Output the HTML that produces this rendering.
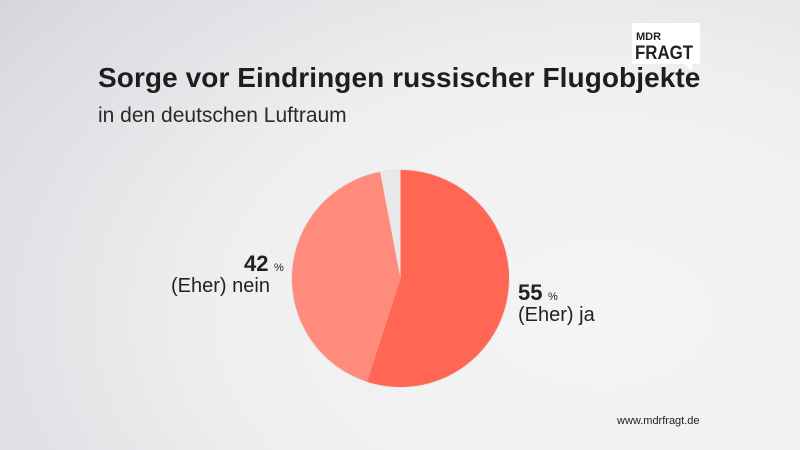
<!DOCTYPE html>
<html><head><meta charset="utf-8"><style>
body{margin:0;width:800px;height:450px;overflow:hidden;font-family:"Liberation Sans",sans-serif;
background:radial-gradient(ellipse 900px 600px at 75% 70%,#f4f4f4 0%,#f0f0f1 40%,#dcdde1 75%,#c9cad0 100%);position:relative;color:#222}
.t{position:absolute;left:98px;top:62px;font-size:28px;font-weight:bold;color:#1e1e1e;letter-spacing:0.08px;white-space:nowrap}
.s{position:absolute;left:98px;top:104px;font-size:21px;color:#2a2a2a}
.lab{position:absolute;font-size:20px;color:#222;line-height:23px}
.lab b{font-size:22px}
.lab small{font-size:11px}
.url{position:absolute;left:617px;top:415px;font-size:11px;color:#222}
</style></head><body>
<svg width="800" height="450" style="position:absolute;left:0;top:0">
<polygon points="632,23 700,23 700,64 692,64 692,71 684,64 632,64" fill="#fff"/>
<text x="636" y="40" font-size="11" font-weight="bold" fill="#222" font-family="Liberation Sans">MDR</text>
<text x="635" y="59" font-size="19" font-weight="bold" fill="#222" font-family="Liberation Sans" textLength="58" lengthAdjust="spacingAndGlyphs">FRAGT</text>
<circle cx="400.5" cy="278.5" r="109.5" fill="#e6e6e6"/>
<path d="M400.5,278.5 L400.5,170 A108.5,108.5 0 1 1 367,381.7 Z" fill="#ff6653"/>
<path d="M400.5,278.5 L367,381.7 A108.5,108.5 0 0 1 380.2,171.9 Z" fill="#ff8b7d"/>
<path d="M400.5,278.5 L380.2,171.9 A108.5,108.5 0 0 1 400.5,170 Z" fill="#e8e8e8"/>
</svg>
<div class="t">Sorge vor Eindringen russischer Flugobjekte</div>
<div class="s">in den deutschen Luftraum</div>
<div class="lab" style="left:244px;top:252px"><b>42</b> <small>%</small></div>
<div class="lab" style="left:171px;top:275px">(Eher) nein</div>
<div class="lab" style="left:518px;top:281px"><b>55</b> <small>%</small></div>
<div class="lab" style="left:518px;top:304px">(Eher) ja</div>
<div class="url">www.mdrfragt.de</div>
</body></html>
